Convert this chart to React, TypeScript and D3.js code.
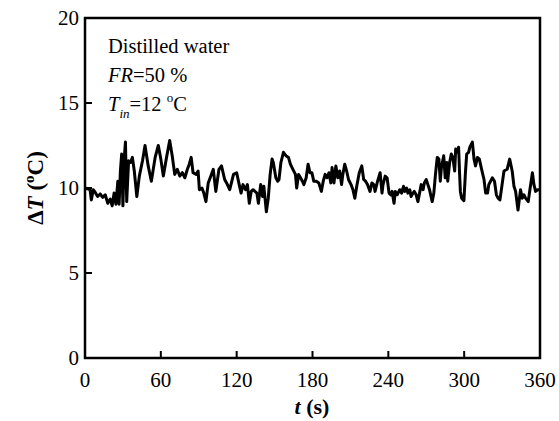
import React from "react";
import * as d3 from "d3";

const times = [
  0, 2, 4, 5, 6.5, 8, 10, 12, 14, 16, 18, 20, 21.5, 23, 24.5, 26, 27, 28, 29, 30, 31, 32, 33, 34.5, 36, 37.5, 39, 41, 43, 45.5, 47.5, 50, 52.5, 55.5, 58, 60, 62, 64.5, 67, 69, 71, 73, 75, 77, 79, 81, 82.5, 84, 85.5, 88, 89.5, 90.5, 92.5, 94, 95.7, 97.5, 100, 101.5, 103.5, 106, 108, 110.5, 112, 114.5, 117.5, 120,
  122, 123.5, 125, 127, 128.5, 130, 131.5, 133, 134.5, 136, 137.2, 139, 140.5, 141.5, 143.5, 145, 146.5, 148, 149, 151, 152.5, 153.5, 155, 157, 159, 161, 162.5, 164.5, 166.5, 167.5, 169, 170.5, 172, 173.2, 175, 176.5, 178, 179.5,
  181, 183, 185, 187, 188.5, 190, 191.5, 193, 194.5, 195.5, 197, 198.5, 200, 201.5, 203, 204, 205.5, 207, 208.5, 210.5, 212, 213.5, 215, 217, 219, 220.5, 222, 223.5, 225.5, 227, 228.5, 229.5, 231.5, 233.5, 235, 235.8, 237.5, 239,
  240.6, 242, 243, 244.5, 245.5, 247, 249, 250.5, 252, 253, 254.5, 255.5, 257, 258, 259.5, 260.5, 262, 263.4, 264.7, 266, 267.5, 268.5, 270, 271.3, 272.6, 273.5, 274.7, 276, 277.3, 278.7, 280, 281.1, 282, 283.8, 285, 286.3, 287, 288.5, 289.8, 291, 292.5, 293.3, 294.7, 295.6, 296.4, 297, 298, 299.8,
  301, 302, 303.5, 304.5, 306.5, 307.8, 309, 310.5, 312, 313.5, 315.7, 317, 318.5, 319.5, 322.3, 324, 325.5, 326.8, 328.3, 330, 331.5, 334, 336, 338, 339.4, 340.7, 342.6, 344.6, 346, 347.3, 348.6, 350.7, 352, 354, 355.2, 356.5, 358.2, 359.5,
];
const values = [
  10.0, 9.95, 9.9, 9.3, 9.9, 9.75, 9.5, 9.65, 9.45, 9.6, 9.1, 9.35, 8.95, 9.7, 9.05, 10.4, 9.05, 11.0, 12.0, 8.95, 11.7, 12.7, 9.2, 11.6, 11.5, 11.8, 11.0, 9.5, 10.7, 11.6, 12.5, 11.3, 10.4, 11.8, 12.5, 11.7, 10.7, 11.8, 12.8, 11.9, 10.8, 11.1, 10.7, 10.9, 10.6, 11.1, 11.4, 11.8, 10.9, 10.8, 11.0, 9.9, 10.0, 9.7, 9.2, 10.3, 10.8, 11.1, 9.8, 11.1, 11.3, 10.5, 10.3, 9.9, 10.8, 10.9,
  10.2, 9.7, 10.2, 9.9, 10.2, 9.1, 9.8, 9.9, 9.8, 9.7, 9.1, 10.2, 9.5, 10.1, 8.6, 9.4, 10.8, 11.7, 11.5, 10.6, 10.4, 10.5, 11.5, 12.1, 11.9, 11.8, 11.4, 11.1, 10.8, 10.0, 10.8, 10.6, 10.4, 10.2, 10.6, 11.4, 10.9, 10.9,
  10.4, 10.4, 10.3, 9.8, 10.4, 10.8, 10.6, 10.9, 10.3, 11.2, 10.3, 11.3, 10.6, 11.0, 10.2, 10.8, 11.4, 11.0, 10.5, 10.2, 9.9, 9.4, 10.1, 10.9, 11.3, 10.5, 10.4, 10.2, 9.8, 10.3, 10.2, 9.8, 10.4, 10.9, 9.7, 10.2, 10.7, 10.6,
  9.7, 9.6, 9.8, 9.1, 9.8, 9.6, 9.9, 9.7, 10.1, 9.8, 10.0, 9.7, 9.9, 9.5, 9.7, 9.8, 9.6, 9.2, 9.7, 10.2, 9.9, 10.3, 10.5, 10.2, 9.9, 9.6, 9.2, 9.7, 10.8, 11.8, 11.7, 10.4, 11.2, 11.9, 10.6, 11.5, 10.4, 11.5, 12.0, 11.8, 11.0, 12.3, 12.1, 12.4, 10.8, 9.8, 9.4, 9.25,
  10.9, 12.0, 12.1, 12.4, 12.7, 11.7, 11.3, 11.8, 11.7, 11.2, 10.5, 9.7, 9.7, 10.2, 10.6, 10.4, 9.6, 9.4, 9.3, 10.2, 11.0, 11.1, 11.7, 11.0, 10.1, 9.8, 8.7, 9.9, 9.4, 9.6, 9.4, 9.2, 9.9, 10.9, 10.2, 9.8, 9.9, 9.9,
];

const xTicks = [0, 60, 120, 180, 240, 300, 360];
const yTicks = [0, 5, 10, 15, 20];
const annotation1 = "Distilled water";

const W = 559;
const H = 421;
const left = 85;
const right = 540;
const top = 18;
const bottom = 358;
const FONT = "'Liberation Serif', 'Times New Roman', serif";

export default function App() {
  const x = d3.scaleLinear().domain([0, 360]).range([left, right]);
  const y = d3.scaleLinear().domain([0, 20]).range([bottom, top]);
  const pts: [number, number][] = times.map((t, i) => [t, values[i]]);
  const line = d3
    .line<[number, number]>()
    .x((d) => x(d[0]))
    .y((d) => y(d[1]));
  const fs = 21;
  return (
    <svg
      width={W}
      height={H}
      style={{ position: "absolute", left: 0, top: 0, background: "#fff" }}
      fontFamily={FONT}
    >
      <rect x={0} y={0} width={W} height={H} fill="#fff" />
      <path d={line(pts) || ""} fill="none" stroke="#000" strokeWidth={3} strokeLinejoin="round" />
      <rect x={left} y={top} width={right - left} height={bottom - top} fill="none" stroke="#000" strokeWidth={2.5} />
      {xTicks.slice(1, -1).map((t) => (
        <line key={"xt" + t} x1={x(t)} x2={x(t)} y1={bottom} y2={bottom - 7} stroke="#000" strokeWidth={2} />
      ))}
      {yTicks.slice(1, -1).map((v) => (
        <line key={"yt" + v} x1={left} x2={left + 7} y1={y(v)} y2={y(v)} stroke="#000" strokeWidth={2} />
      ))}
      {xTicks.map((t) => (
        <text key={"xl" + t} x={x(t)} y={387} fontSize={fs} textAnchor="middle">
          {t}
        </text>
      ))}
      {yTicks.map((v) => (
        <text key={"yl" + v} x={79} y={y(v) + 7} fontSize={fs} textAnchor="end">
          {v}
        </text>
      ))}
      <text x={312} y={414} fontSize={22} fontWeight="bold" textAnchor="middle">
        <tspan fontStyle="italic">t</tspan>
        <tspan> (s)</tspan>
      </text>
      <text
        transform={`translate(43, ${(top + bottom) / 2}) rotate(-90)`}
        fontSize={23}
        fontWeight="bold"
        textAnchor="middle"
      >
        <tspan>Δ</tspan>
        <tspan fontStyle="italic">T</tspan>
        <tspan> (</tspan>
        <tspan fontSize={15} dy={-9}>o</tspan>
        <tspan dy={9}>C)</tspan>
      </text>
      <text x={108} y={53} fontSize={20.5}>
        {annotation1}
      </text>
      <text x={108} y={82} fontSize={20.5}>
        <tspan fontStyle="italic">FR</tspan>
        <tspan>=50 %</tspan>
      </text>
      <text x={108} y={111} fontSize={20.5}>
        <tspan fontStyle="italic">T</tspan>
        <tspan fontStyle="italic" fontSize={13} dy={7}>in</tspan>
        <tspan dy={-7}>=12 </tspan>
        <tspan fontSize={13} dy={-9}>o</tspan>
        <tspan dy={9}>C</tspan>
      </text>
    </svg>
  );
}
